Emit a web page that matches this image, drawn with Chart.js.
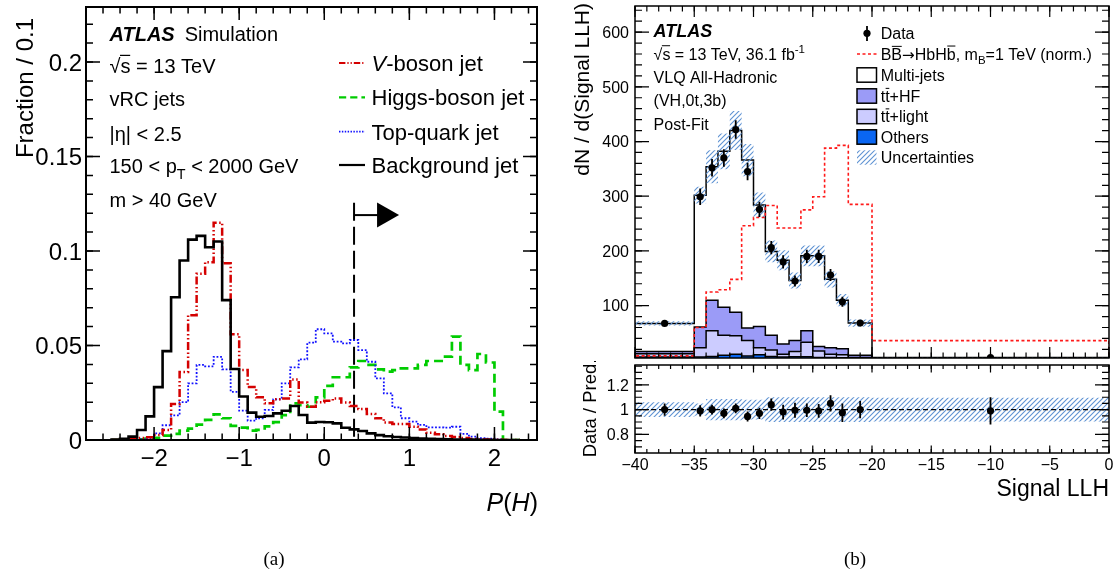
<!DOCTYPE html>
<html>
<head>
<meta charset="utf-8">
<title>P(H) tagger and Signal LLH</title>
<script src="https://cdn.jsdelivr.net/npm/chart.js@4.4.1/dist/chart.umd.min.js"></script>
<style>
  html, body { margin: 0; padding: 0; background: #fff; }
  body { width: 1117px; height: 578px; position: relative; overflow: hidden; }
  canvas { position: absolute; }
  #pH { left: 0; top: 0; }
  #llh { left: 560px; top: 0; }
  #ratio { left: 560px; top: 361px; }
</style>
</head>
<body>
<canvas id="pH" width="560" height="578"></canvas>
<canvas id="llh" width="557" height="362"></canvas>
<canvas id="ratio" width="557" height="217"></canvas>
<script>
const FONT = '"Liberation Sans", Arial, Helvetica, sans-serif';
const SERIF = '"Liberation Serif", "Times New Roman", serif';

// ---------- (a) P(H) distributions: fraction per 0.1 bin ----------
const pHEdges = [-2.5, -2.4, -2.3, -2.2, -2.1, -2.0, -1.9, -1.8, -1.7, -1.6, -1.5, -1.4, -1.3, -1.2, -1.1, -1.0,
  -0.9, -0.8, -0.7, -0.6, -0.5, -0.4, -0.3, -0.2, -0.1, 0.0, 0.1, 0.2, 0.3, 0.4, 0.5, 0.6, 0.7, 0.8, 0.9, 1.0,
  1.1, 1.2, 1.3, 1.4, 1.5, 1.6, 1.7, 1.8, 1.9, 2.0, 2.1, 2.2, 2.3];
const vBosonJet = [0, 0.0003, 0.0006, 0.001, 0.0014, 0.0026, 0.0053, 0.019, 0.036, 0.066, 0.088, 0.094, 0.115,
  0.0935, 0.056, 0.037, 0.028, 0.0226, 0.0194, 0.0215, 0.022, 0.032, 0.0198, 0.0176, 0.020, 0.0208, 0.022, 0.0198,
  0.018, 0.0164, 0.0138, 0.0115, 0.0092, 0.0085, 0.0085, 0.007, 0.0056, 0.0039, 0.003, 0.0021, 0.0016, 0.001,
  0.0005, 0.0003, 0.0002, 0.0001, 0, 0];
const higgsJet = [0, 0, 0.0002, 0.0004, 0.0008, 0.0012, 0.0023, 0.0032, 0.005, 0.006, 0.0081, 0.0106, 0.0136,
  0.0115, 0.0075, 0.0066, 0.005, 0.0054, 0.0072, 0.0095, 0.0132, 0.0194, 0.0185, 0.0176, 0.0226, 0.0286, 0.0332,
  0.0332, 0.0384, 0.0418, 0.0397, 0.0374, 0.0362, 0.037, 0.0379, 0.0379, 0.0397, 0.0418, 0.0418, 0.0441, 0.0547,
  0.0397, 0.037, 0.0455, 0.041, 0.015, 0, 0];
const topQuarkJet = [0, 0, 0.0002, 0.0004, 0.0008, 0.0035, 0.0078, 0.013, 0.02, 0.03, 0.0397, 0.039, 0.044,
  0.0374, 0.0255, 0.0155, 0.0102, 0.0115, 0.0159, 0.0215, 0.03, 0.0384, 0.0427, 0.0515, 0.0586, 0.0564, 0.052,
  0.0511, 0.0529, 0.0476, 0.0414, 0.0326, 0.0247, 0.0173, 0.0115, 0.0097, 0.008, 0.0067, 0.0067, 0.0065, 0.007,
  0.0032, 0.0018, 0.001, 0.0007, 0.0003, 0.0001, 0];
const backgroundJet = [0.0003, 0.0006, 0.0018, 0.0053, 0.0125, 0.028, 0.047, 0.0755, 0.095, 0.106, 0.108, 0.102,
  0.105, 0.074, 0.0376, 0.023, 0.0145, 0.0123, 0.0127, 0.0141, 0.0155, 0.018, 0.0132, 0.0092, 0.0095, 0.0094,
  0.0088, 0.0065, 0.0056, 0.0048, 0.0035, 0.0026, 0.002, 0.0016, 0.0013, 0.001, 0.0008, 0.0006, 0.0005, 0.0004,
  0.0003, 0.0002, 0.0002, 0.0001, 0.0001, 0, 0, 0];
const pHCut = 0.35;
const fractionTicks = [0, 0.05, 0.1, 0.15, 0.2];
const fractionTickLabels = ['0', '0.05', '0.1', '0.15', '0.2'];
const pHTicks = [-2, -1, 0, 1, 2];
const pHTickLabels = ['\u22122', '\u22121', '0', '1', '2'];

// ---------- (b) Signal LLH, (VH,0t,3b) region, post-fit ----------
const llhEdges = [-40, -35, -34, -33, -32, -31, -30, -29, -28, -27, -26, -25, -24, -23, -22, -20, 0];
const multiJets = [51.5, 241, 244, 285, 332, 307, 222, 153, 153, 110, 137, 166, 125, 89, 59, 0.5];
const ttHF = [4, 38, 56, 51, 43, 23, 39, 27, 19, 20, 21, 8, 12, 11, 4, 0.5];
const ttLight = [6, 17, 47, 37, 34, 28, 13, 12, 5, 9.5, 26.5, 12, 6, 5.5, 1, 0.5];
const others = [6, 6, 7, 9, 11, 8, 10, 7, 6, 6.5, 6.5, 5, 5, 4.5, 4, 3.5];
const signalBB = [8, 60, 125, 129, 148, 246, 261, 283, 242, 242, 275, 299, 388, 393, 285, 36];
const dataCounts = [67.5, 299, 352, 370, 422, 345, 276, 206, 180, 145, 190, 190, 156, 107, 68, 5];
const dataErr = [3.5, 15, 16, 16, 17, 16, 14, 12, 12, 10, 12, 12, 11, 9, 5, 0.6];
const ratioValues = [1.0, 0.99, 1.0, 0.97, 1.01, 0.945, 0.97, 1.04, 0.98, 0.995, 0.995, 0.99, 1.05, 0.975, 1.0, 0.99];
const ratioErr = [0.05, 0.045, 0.04, 0.04, 0.04, 0.04, 0.045, 0.05, 0.06, 0.06, 0.055, 0.055, 0.065, 0.075, 0.07, 0.11];
const relUnc = [0.06, 0.05, 0.085, 0.085, 0.085, 0.08, 0.08, 0.1, 0.1, 0.1, 0.1, 0.1, 0.1, 0.1, 0.1, 0.095];
const llhTicks = [-40, -35, -30, -25, -20, -15, -10, -5, 0];
const llhTickLabels = ['\u221240', '\u221235', '\u221230', '\u221225', '\u221220', '\u221215', '\u221210', '\u22125', '0'];
const countTicks = [100, 200, 300, 400, 500, 600];
const countTickLabels = ['100', '200', '300', '400', '500', '600'];
const ratioTicks = [0.8, 1, 1.2];
const ratioTickLabels = ['0.8', '1', '1.2'];

// ---------- helpers ----------
const COL = { hf: '#9b9bf7', light: '#ccccff', others: '#0a66f2', hatch: '#5f93d3', sig: '#ff1a1a' };

// step outline of a binned histogram (horizontal run, then vertical jump)
function hist(edges, vals) {
  const pts = [{ x: edges[0], y: 0 }];
  vals.forEach((v, i) => pts.push({ x: edges[i], y: v }));
  pts.push({ x: edges[edges.length - 1], y: vals[vals.length - 1] });
  pts.push({ x: edges[edges.length - 1], y: 0 });
  return pts;
}
function histOpen(edges, vals) {
  const pts = vals.map((v, i) => ({ x: edges[i], y: v }));
  pts.push({ x: edges[edges.length - 1], y: vals[vals.length - 1] });
  return pts;
}
function steps(a, b, d) {
  const out = [];
  for (let v = a; v <= b + 1e-9; v += d) out.push(Math.round(v * 1e6) / 1e6);
  return out;
}
function hatchPattern(color) {
  const c = document.createElement('canvas');
  c.width = 5; c.height = 5;
  const g = c.getContext('2d');
  g.strokeStyle = color; g.lineWidth = 1.1;
  g.beginPath();
  g.moveTo(-1, 6); g.lineTo(6, -1);
  g.moveTo(-3, 3); g.lineTo(3, -3);
  g.moveTo(2, 8); g.lineTo(8, 2);
  g.stroke();
  return g.createPattern(c, 'repeat');
}
function tickMarks(ctx, a, scale, values, len, axis, mirror) {
  ctx.beginPath();
  for (const v of values) {
    const p = scale.getPixelForValue(v);
    if (axis === 'x') {
      ctx.moveTo(p, a.bottom); ctx.lineTo(p, a.bottom - len);
      if (mirror) { ctx.moveTo(p, a.top); ctx.lineTo(p, a.top + len); }
    } else {
      ctx.moveTo(a.left, p); ctx.lineTo(a.left + len, p);
      if (mirror) { ctx.moveTo(a.right, p); ctx.lineTo(a.right - len, p); }
    }
  }
  ctx.stroke();
}
// text made of runs: {t, it, b, sub, sup, bar, fam, scale}
function richText(ctx, x, y, parts, size, align) {
  const items = parts.map(p => {
    const s = (p.sub || p.sup) ? size * 0.72 : size * (p.scale || 1);
    const font = (p.it ? 'italic ' : '') + (p.b ? 'bold ' : '') + s + 'px ' + (p.fam || FONT);
    ctx.font = font;
    return { p, s, font, w: ctx.measureText(p.t).width };
  });
  const total = items.reduce((acc, it) => acc + it.w, 0);
  let cx = align === 'right' ? x - total : align === 'center' ? x - total / 2 : x;
  ctx.save();
  ctx.fillStyle = '#000'; ctx.strokeStyle = '#000';
  ctx.textAlign = 'left'; ctx.textBaseline = 'alphabetic';
  for (const it of items) {
    const dy = it.p.sub ? size * 0.28 : it.p.sup ? -size * 0.42 : 0;
    ctx.font = it.font;
    ctx.fillText(it.p.t, cx, y + dy);
    if (it.p.bar) {
      const by = y + dy - it.s * it.p.bar;
      ctx.lineWidth = Math.max(1, size / 16);
      ctx.beginPath();
      ctx.moveTo(cx + (it.p.barL !== undefined ? it.p.barL : 0.5), by);
      ctx.lineTo(cx + it.w - 0.3, by);
      ctx.stroke();
    }
    cx += it.w;
  }
  ctx.restore();
  return total;
}
function vText(ctx, x, y, parts, size, align) {
  ctx.save();
  ctx.translate(x, y);
  ctx.rotate(-Math.PI / 2);
  richText(ctx, 0, 0, parts, size, align);
  ctx.restore();
}
const sqrtS = [{ t: '\u221A' }, { t: 's', bar: 0.88, barL: -0.5 }];
const ttbar = [{ t: 't' }, { t: 't', bar: 0.84 }];

const baseOptions = (padding, xr, yr) => ({
  responsive: false, animation: false, devicePixelRatio: 1, events: [],
  layout: { padding },
  plugins: { legend: { display: false }, tooltip: { enabled: false }, title: { display: false } },
  elements: { point: { radius: 0 }, line: { tension: 0, borderJoinStyle: 'miter', borderCapStyle: 'butt' } },
  scales: {
    x: { type: 'linear', min: xr[0], max: xr[1], display: false },
    y: { type: 'linear', min: yr[0], max: yr[1], display: false }
  }
});

// ---------- (a) ----------
const styleA = {
  v: { color: '#d40000', dash: [8, 2.5, 1.5, 2.5, 1.5, 2.5], width: 2.5 },
  h: { color: '#00cc00', dash: [9, 5], width: 2.7 },
  t: { color: '#1010ff', dash: [1.8, 1.8], width: 1.8 },
  b: { color: '#000000', dash: [], width: 2.6 }
};
const lineA = (vals, st) => ({
  data: hist(pHEdges, vals), stepped: 'before', fill: false, pointRadius: 0,
  borderColor: st.color, borderWidth: st.width, borderDash: st.dash
});

const decoA = {
  id: 'decoA',
  afterDatasetsDraw(chart) {
    const { ctx, chartArea: a, scales: { x, y } } = chart;
    ctx.save();
    ctx.strokeStyle = '#000'; ctx.fillStyle = '#000';
    // arrow pointing to the selected side of the cut
    const cx = x.getPixelForValue(pHCut);
    const ay = y.getPixelForValue(0.119);
    ctx.lineWidth = 2;
    ctx.beginPath(); ctx.moveTo(cx, ay); ctx.lineTo(cx + 24, ay); ctx.stroke();
    ctx.beginPath(); ctx.moveTo(cx + 23, ay - 12.5); ctx.lineTo(cx + 45, ay); ctx.lineTo(cx + 23, ay + 12.5);
    ctx.closePath(); ctx.fill();
    // frame and ticks
    ctx.lineWidth = 2;
    ctx.strokeRect(a.left, a.top, a.right - a.left, a.bottom - a.top);
    ctx.lineWidth = 1.5;
    tickMarks(ctx, a, x, pHTicks, 13, 'x', true);
    tickMarks(ctx, a, x, steps(-2.8, 2.5, 0.2), 6.5, 'x', true);
    tickMarks(ctx, a, y, fractionTicks, 14, 'y', true);
    tickMarks(ctx, a, y, steps(0, 0.22, 0.01), 7, 'y', true);
    // tick labels
    ctx.font = '24px ' + FONT; ctx.textBaseline = 'alphabetic';
    ctx.textAlign = 'right';
    fractionTicks.forEach((v, i) => ctx.fillText(fractionTickLabels[i], 82, y.getPixelForValue(v) + 8.6));
    ctx.textAlign = 'center';
    pHTicks.forEach((v, i) => ctx.fillText(pHTickLabels[i], x.getPixelForValue(v), 465.6));
    // axis titles
    vText(ctx, 33, 18, [{ t: 'Fraction / 0.1' }], 24, 'right');
    richText(ctx, 538, 510.5, [{ t: 'P', it: true }, { t: '(' }, { t: 'H', it: true }, { t: ')' }], 25, 'right');
    // labels
    const lx = 109.5;
    const w = richText(ctx, lx, 40.5, [{ t: 'ATLAS', b: true, it: true }], 20, 'left');
    richText(ctx, lx + w + 10, 40.5, [{ t: 'Simulation' }], 20, 'left');
    richText(ctx, lx, 73, [...sqrtS, { t: ' = 13 TeV' }], 20, 'left');
    richText(ctx, lx, 106, [{ t: 'vRC jets' }], 20, 'left');
    richText(ctx, lx, 140.5, [{ t: '|\u03B7| < 2.5' }], 20, 'left');
    richText(ctx, lx, 173, [{ t: '150 < p' }, { t: 'T', sub: true }, { t: ' < 2000 GeV' }], 20, 'left');
    richText(ctx, lx, 207, [{ t: 'm > 40 GeV' }], 20, 'left');
    // legend
    const rows = [
      { yc: 63, st: styleA.v, parts: [{ t: 'V', it: true }, { t: '-boson jet' }] },
      { yc: 97.3, st: styleA.h, parts: [{ t: 'Higgs-boson jet' }] },
      { yc: 131.7, st: styleA.t, parts: [{ t: 'Top-quark jet' }] },
      { yc: 165, st: styleA.b, parts: [{ t: 'Background jet' }] }
    ];
    for (const r of rows) {
      ctx.save();
      ctx.strokeStyle = r.st.color; ctx.lineWidth = Math.min(2.2, r.st.width);
      ctx.setLineDash(r.st.dash.length ? r.st.dash.map(d => d * 0.8) : []);
      ctx.beginPath(); ctx.moveTo(339, r.yc); ctx.lineTo(365, r.yc); ctx.stroke();
      ctx.restore();
      richText(ctx, 371.5, r.yc + 7.9, r.parts, 22, 'left');
    }
    // panel caption
    ctx.font = '19px ' + SERIF; ctx.textAlign = 'center'; ctx.fillStyle = '#000';
    ctx.fillText('(a)', 274, 565);
    ctx.restore();
  }
};

new Chart(document.getElementById('pH'), {
  type: 'line',
  data: {
    datasets: [
      lineA(backgroundJet, styleA.b),
      lineA(vBosonJet, styleA.v),
      lineA(topQuarkJet, styleA.t),
      lineA(higgsJet, styleA.h),
      {
        data: [{ x: pHCut, y: 0.1255 }, { x: pHCut, y: 0 }], fill: false, pointRadius: 0,
        borderColor: '#000', borderWidth: 2, borderDash: [18, 6]
      }
    ]
  },
  options: baseOptions({ left: 86, right: 23, top: 7, bottom: 138 }, [-2.8, 2.5], [0, 0.2291]),
  plugins: [decoA]
});

// ---------- (b) upper: stacked prediction ----------
const hatch = hatchPattern(COL.hatch);
const cumOthers = others.slice();
const cumLight = others.map((v, i) => v + ttLight[i]);
const cumHF = cumLight.map((v, i) => v + ttHF[i]);
const cumTotal = cumHF.map((v, i) => v + multiJets[i]);
const bandLo = cumTotal.map((v, i) => v * (1 - relUnc[i]));
const bandHi = cumTotal.map((v, i) => v * (1 + relUnc[i]));
const llhCenters = llhEdges.slice(0, -1).map((e, i) => (e + llhEdges[i + 1]) / 2);

const fillB = (vals, bg, target) => ({
  data: hist(llhEdges, vals), stepped: 'before', pointRadius: 0,
  borderWidth: 1, borderColor: 'rgba(0,0,0,0)', backgroundColor: bg, fill: target
});
const outlineB = (vals, color, width, dash) => ({
  data: hist(llhEdges, vals), stepped: 'before', pointRadius: 0, fill: false,
  borderColor: color, borderWidth: width, borderDash: dash || []
});

const dsB = [
  fillB(cumOthers, COL.others, 'origin'),
  fillB(cumLight, COL.light, 0),
  fillB(cumHF, COL.hf, 1),
  fillB(cumTotal, '#ffffff', 2),
  outlineB(cumOthers, '#000', 1.5),
  outlineB(cumLight, '#000', 1.5),
  outlineB(cumHF, '#000', 1.5),
  outlineB(cumTotal, '#000', 1.5),
  { data: histOpen(llhEdges, bandLo), stepped: 'before', pointRadius: 0, borderWidth: 1, borderColor: 'rgba(0,0,0,0)', fill: false },
  { data: histOpen(llhEdges, bandHi), stepped: 'before', pointRadius: 0, borderWidth: 1, borderColor: 'rgba(0,0,0,0)', fill: 8, backgroundColor: hatch },
  outlineB(signalBB, COL.sig, 1.6, [3, 2.5]),
  {
    data: llhCenters.map((c, i) => ({ x: c, y: dataCounts[i] })), showLine: false,
    pointRadius: 3.6, pointBackgroundColor: '#000', pointBorderColor: '#000', pointBorderWidth: 0
  }
];
dsB.forEach((d, i) => { d.order = 100 - i; });

function errorBars(ctx, x, y, xs, vals, errs) {
  ctx.beginPath();
  xs.forEach((c, i) => {
    const px = x.getPixelForValue(c);
    ctx.moveTo(px, y.getPixelForValue(vals[i] - errs[i]));
    ctx.lineTo(px, y.getPixelForValue(vals[i] + errs[i]));
  });
  ctx.stroke();
}

const decoB = {
  id: 'decoB',
  afterDatasetsDraw(chart) {
    const { ctx, chartArea: a, scales: { x, y } } = chart;
    ctx.save();
    ctx.strokeStyle = '#000'; ctx.fillStyle = '#000';
    ctx.lineWidth = 1.8;
    errorBars(ctx, x, y, llhCenters, dataCounts, dataErr);
    ctx.lineWidth = 1.5;
    ctx.strokeRect(a.left, a.top, a.right - a.left, a.bottom - a.top);
    ctx.lineWidth = 1.2;
    tickMarks(ctx, a, x, llhTicks, 11, 'x', true);
    tickMarks(ctx, a, x, steps(-40, 0, 1), 5.5, 'x', true);
    tickMarks(ctx, a, y, countTicks, 14, 'y', true);
    tickMarks(ctx, a, y, steps(20, 640, 20), 7, 'y', true);
    // page coordinates from here on
    ctx.translate(-560, 0);
    ctx.font = '16px ' + FONT; ctx.textAlign = 'right'; ctx.textBaseline = 'alphabetic';
    countTicks.forEach((v, i) => ctx.fillText(countTickLabels[i], 629, y.getPixelForValue(v) + 5.8));
    vText(ctx, 589, 3, [{ t: 'dN / d(Signal LLH)' }], 21, 'right');
    // labels
    richText(ctx, 653.6, 36.5, [{ t: 'ATLAS', b: true, it: true }], 18, 'left');
    richText(ctx, 653.6, 59.8, [...sqrtS, { t: ' = 13 TeV, 36.1 fb' }, { t: '-1', sup: true }], 16, 'left');
    richText(ctx, 653.6, 82.5, [{ t: 'VLQ All-Hadronic' }], 16, 'left');
    richText(ctx, 653.6, 105.8, [{ t: '(VH,0t,3b)' }], 16, 'left');
    richText(ctx, 653.6, 129.8, [{ t: 'Post-Fit' }], 16, 'left');
    // legend
    const bx = 857, bw = 19.5, bh = 14.4, tx = 880.7;
    ctx.lineWidth = 1.8;
    ctx.beginPath(); ctx.moveTo(867, 26); ctx.lineTo(867, 41); ctx.stroke();
    ctx.beginPath(); ctx.arc(867, 33.3, 3.6, 0, Math.PI * 2); ctx.fill();
    richText(ctx, tx, 39.1, [{ t: 'Data' }], 16, 'left');
    ctx.save();
    ctx.strokeStyle = COL.sig; ctx.lineWidth = 1.6; ctx.setLineDash([3, 2.5]);
    ctx.beginPath(); ctx.moveTo(bx, 54); ctx.lineTo(bx + bw, 54); ctx.stroke();
    ctx.restore();
    richText(ctx, tx, 59.8, [{ t: 'B' }, { t: 'B', bar: 0.84 }, { t: '\u2192', fam: '"DejaVu Sans", sans-serif', scale: 0.95 },
      { t: 'HbH' }, { t: 'b', bar: 0.86 }, { t: ', m' }, { t: 'B', sub: true }, { t: '=1 TeV (norm.)' }], 16, 'left');
    const boxes = [
      { yc: 75, fill: '#ffffff', parts: [{ t: 'Multi-jets' }] },
      { yc: 96, fill: COL.hf, parts: [...ttbar, { t: '+HF' }] },
      { yc: 116.5, fill: COL.light, parts: [...ttbar, { t: '+light' }] },
      { yc: 137, fill: COL.others, parts: [{ t: 'Others' }] }
    ];
    ctx.lineWidth = 1.5;
    for (const r of boxes) {
      ctx.fillStyle = r.fill;
      ctx.fillRect(bx, r.yc - bh / 2, bw, bh);
      ctx.strokeRect(bx, r.yc - bh / 2, bw, bh);
      richText(ctx, tx, r.yc + 5.8, r.parts, 16, 'left');
    }
    ctx.fillStyle = hatch;
    ctx.fillRect(bx, 157.5 - bh / 2, bw, bh);
    richText(ctx, tx, 163.3, [{ t: 'Uncertainties' }], 16, 'left');
    ctx.restore();
  }
};

new Chart(document.getElementById('llh'), {
  type: 'line',
  data: { datasets: dsB },
  options: baseOptions({ left: 75, right: 8, top: 6, bottom: 1 }, [-40, 0], [4.2, 647.8]),
  plugins: [decoB]
});

// ---------- (b) lower: data / prediction ----------
const dsC = [
  { data: histOpen(llhEdges, relUnc.map(u => 1 - u)), stepped: 'before', pointRadius: 0, borderWidth: 1, borderColor: 'rgba(0,0,0,0)', fill: false },
  { data: histOpen(llhEdges, relUnc.map(u => 1 + u)), stepped: 'before', pointRadius: 0, borderWidth: 1, borderColor: 'rgba(0,0,0,0)', fill: 0, backgroundColor: hatch },
  { data: [{ x: -40, y: 1 }, { x: 0, y: 1 }], pointRadius: 0, fill: false, borderColor: '#000', borderWidth: 1.2, borderDash: [5, 3] },
  {
    data: llhCenters.map((c, i) => ({ x: c, y: ratioValues[i] })), showLine: false,
    pointRadius: 3.6, pointBackgroundColor: '#000', pointBorderColor: '#000', pointBorderWidth: 0
  }
];
dsC.forEach((d, i) => { d.order = 100 - i; });

const decoC = {
  id: 'decoC',
  afterDatasetsDraw(chart) {
    const { ctx, chartArea: a, scales: { x, y } } = chart;
    ctx.save();
    ctx.strokeStyle = '#000'; ctx.fillStyle = '#000';
    ctx.lineWidth = 1.8;
    errorBars(ctx, x, y, llhCenters, ratioValues, ratioErr);
    ctx.lineWidth = 1.5;
    ctx.strokeRect(a.left, a.top, a.right - a.left, a.bottom - a.top);
    ctx.lineWidth = 1.2;
    tickMarks(ctx, a, x, llhTicks, 7.5, 'x', true);
    tickMarks(ctx, a, x, steps(-40, 0, 1), 4, 'x', true);
    tickMarks(ctx, a, y, ratioTicks, 14, 'y', true);
    tickMarks(ctx, a, y, steps(0.7, 1.35, 0.05), 7, 'y', true);
    ctx.translate(-560, -361);
    ctx.font = '16px ' + FONT; ctx.textBaseline = 'alphabetic';
    ctx.textAlign = 'right';
    ratioTicks.forEach((v, i) => ctx.fillText(ratioTickLabels[i], 629, y.getPixelForValue(v) + 361 + 5.8));
    ctx.textAlign = 'center';
    llhTicks.forEach((v, i) => ctx.fillText(llhTickLabels[i], x.getPixelForValue(v) + 560, 469.8));
    vText(ctx, 596, 408, [{ t: 'Data / Pred.' }], 18.5, 'center');
    richText(ctx, 1109, 496.3, [{ t: 'Signal LLH' }], 23, 'right');
    ctx.font = '19px ' + SERIF; ctx.textAlign = 'center'; ctx.fillStyle = '#000';
    ctx.fillText('(b)', 855, 565);
    ctx.restore();
  }
};

new Chart(document.getElementById('ratio'), {
  type: 'line',
  data: { datasets: dsC },
  options: baseOptions({ left: 75, right: 8, top: 0, bottom: 125 }, [-40, 0], [0.65, 1.36]),
  plugins: [decoC]
});
</script>
</body>
</html>
